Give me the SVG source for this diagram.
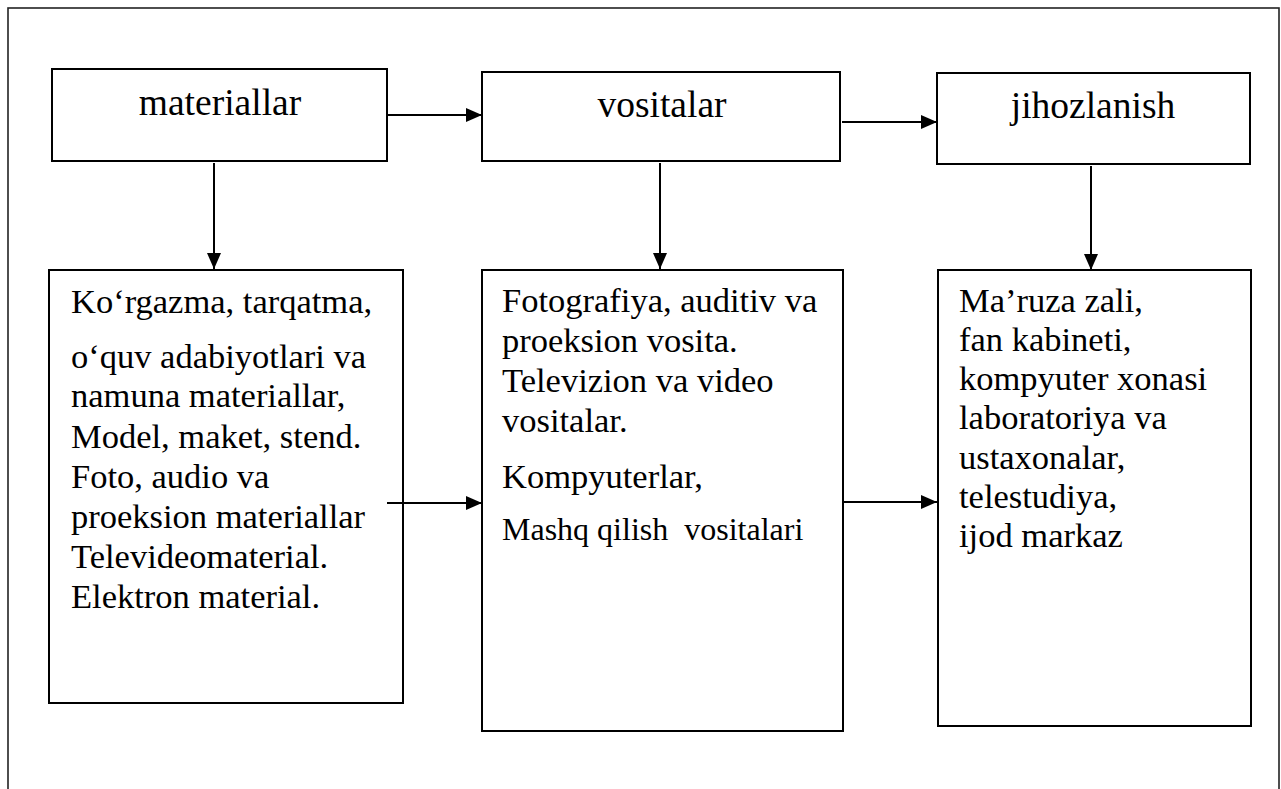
<svg xmlns="http://www.w3.org/2000/svg" width="1281" height="789" viewBox="0 0 1281 789">
  <style>
    .box { fill: #ffffff; stroke: #000000; stroke-width: 2; }
    .frame { fill: none; stroke: #222222; stroke-width: 1.6; }
    .edge { stroke: #000000; stroke-width: 2; fill: none; marker-end: url(#arrow); }
    text { font-family: 'Liberation Serif', 'Times New Roman', Times, 'DejaVu Serif', serif; fill: #000000; }
    .title { font-size: 37.5px; text-anchor: middle; }
    .body { font-size: 34.5px; }
    .small { font-size: 32px; }
  </style>
  <defs>
    <marker id="arrow" markerUnits="userSpaceOnUse" markerWidth="16" markerHeight="14" refX="16" refY="7" orient="auto">
      <path d="M0,0 L16,7 L0,14 z" fill="#000000"/>
    </marker>
  </defs>

  <rect width="1281" height="789" fill="#ffffff"/>
  <!-- outer frame, open at the bottom -->
  <rect class="frame" x="8" y="8" width="1271" height="800"/>

  <!-- top row -->
  <g id="materiallar">
    <rect class="box" x="52" y="69" width="335" height="92"/>
    <text class="title" x="220" y="115" font-family="Liberation Serif, serif">materiallar</text>
  </g>
  <g id="vositalar">
    <rect class="box" x="482" y="72" width="358" height="89"/>
    <text class="title" x="662" y="117" font-family="Liberation Serif, serif">vositalar</text>
  </g>
  <g id="jihozlanish">
    <rect class="box" x="937" y="73" width="313" height="91"/>
    <text class="title" x="1093" y="118" font-family="Liberation Serif, serif">jihozlanish</text>
  </g>

  <!-- bottom row -->
  <g id="materiallar-list">
    <rect class="box" x="49" y="270" width="354" height="433"/>
    <text class="body" font-family="Liberation Serif, serif">
      <tspan x="71" y="313">Ko‘rgazma, tarqatma,</tspan>
      <tspan x="71" y="368">o‘quv adabiyotlari va</tspan>
      <tspan x="71" y="407">namuna materiallar,</tspan>
      <tspan x="71" y="448">Model, maket, stend.</tspan>
      <tspan x="71" y="488">Foto, audio va</tspan>
      <tspan x="71" y="528">proeksion materiallar</tspan>
      <tspan x="71" y="568">Televideomaterial.</tspan>
      <tspan x="71" y="608">Elektron material.</tspan>
    </text>
  </g>
  <g id="vositalar-list">
    <rect class="box" x="482" y="270" width="361" height="461"/>
    <text class="body" font-family="Liberation Serif, serif">
      <tspan x="502" y="312">Fotografiya, auditiv va</tspan>
      <tspan x="502" y="352">proeksion vosita.</tspan>
      <tspan x="502" y="392">Televizion va video</tspan>
      <tspan x="502" y="432">vositalar.</tspan>
      <tspan x="502" y="488">Kompyuterlar,</tspan>
    </text>
    <text class="body small" x="502" y="540" font-family="Liberation Serif, serif" xml:space="preserve">Mashq qilish  vositalari</text>
  </g>
  <g id="jihozlanish-list">
    <rect class="box" x="938" y="270" width="313" height="456"/>
    <text class="body" font-family="Liberation Serif, serif">
      <tspan x="959" y="312">Ma’ruza zali,</tspan>
      <tspan x="959" y="351">fan kabineti,</tspan>
      <tspan x="959" y="390">kompyuter xonasi</tspan>
      <tspan x="959" y="429">laboratoriya va</tspan>
      <tspan x="959" y="469">ustaxonalar,</tspan>
      <tspan x="959" y="508">telestudiya,</tspan>
      <tspan x="959" y="547">ijod markaz</tspan>
    </text>
  </g>

  <!-- connectors -->
  <g id="connectors">
    <line class="edge" x1="387" y1="115" x2="482" y2="115"/>
    <line class="edge" x1="842" y1="122" x2="937" y2="122"/>
    <line class="edge" x1="214" y1="163" x2="214" y2="269"/>
    <line class="edge" x1="660" y1="163" x2="660" y2="269"/>
    <line class="edge" x1="1091" y1="166" x2="1091" y2="270"/>
    <line class="edge" x1="387" y1="503" x2="482" y2="503"/>
    <line class="edge" x1="843" y1="502" x2="937" y2="502"/>
  </g>
</svg>
